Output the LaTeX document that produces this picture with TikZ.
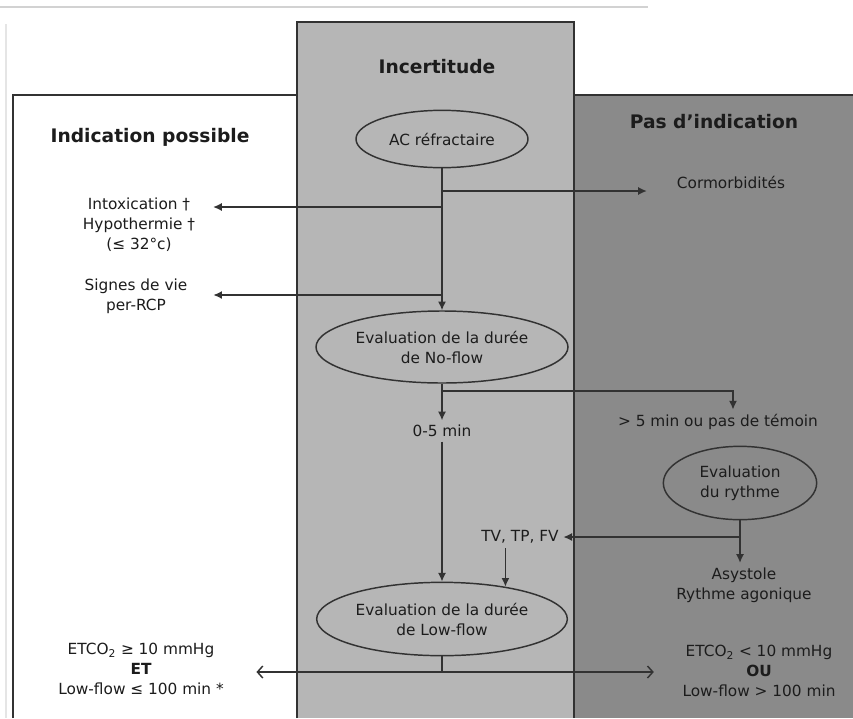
\documentclass[tikz,border=0pt]{standalone}
\usepackage{fontspec}
\setmainfont{DejaVu Sans}
\usetikzlibrary{shapes.geometric,arrows.meta}
\definecolor{midgray}{RGB}{182,182,182}
\definecolor{darkpanel}{RGB}{138,138,138}
\definecolor{edgegray}{RGB}{50,50,50}
\definecolor{txt}{RGB}{28,28,28}

\begin{document}
\begin{tikzpicture}[x=0.75pt,y=-0.75pt,
    every node/.style={font=\fontsize{11.5}{15}\selectfont, text=txt, align=center},
    titlenode/.style={font=\fontsize{14}{17}\selectfont\bfseries},
    evalnode/.style={ellipse, draw=edgegray, line width=1.1pt, inner sep=0pt},
    flow/.style={draw=edgegray, line width=1.1pt, -{Latex[length=6.5pt,width=6pt]}},
    link/.style={draw=edgegray, line width=1.1pt}]
  \useasboundingbox (0,0) rectangle (853,718);

  % panneaux
  \draw[gray!35, line width=0.8pt] (0,7) -- (648,7);
  \draw[gray!20, line width=0.8pt] (6,24) -- (6,718);
  \fill[white] (13,95) rectangle (297,718);
  \fill[darkpanel] (574,95) rectangle (853,718);
  \draw[edgegray, line width=1.5pt] (13,718) -- (13,95) -- (297,95);
  \draw[edgegray, line width=1.5pt] (574,95) -- (853,95);
  \filldraw[fill=midgray, draw=edgegray, line width=1.5pt] (297,718) -- (297,22) -- (574,22) -- (574,718);

  \node[titlenode] (possible) at (150,137) {Indication possible};
  \node[titlenode] (incert) at (437,67) {Incertitude};
  \node[titlenode] (pasind) at (714,122) {Pas d’indication};

  \node[evalnode, minimum width=129pt, minimum height=43pt] (ac) at (442,139) {AC réfractaire};
  \node (cormo) at (731,182) {Cormorbidités};
  \node (intox) at (139,225) {Intoxication †\\Hypothermie †\\(≤ 32°c)};
  \node (signes) at (136,296) {Signes de vie\\per-RCP};
  \node[evalnode, minimum width=189pt, minimum height=54pt] (noflow) at (442,347) {Evaluation de la durée\\de No-flow};
  \node (zero) at (442,431) {0-5 min};
  \node (five) at (718,422) {> 5 min ou pas de témoin};
  \node[evalnode, minimum width=115pt, minimum height=55pt] (rythme) at (740,483) {Evaluation\\du rythme};
  \node (tv) at (520,537) {TV, TP, FV};
  \node (asys) at (744,585) {Asystole\\Rythme agonique};
  \node[evalnode, minimum width=188pt, minimum height=55pt] (lowflow) at (442,619) {Evaluation de la durée\\de Low-flow};
  \node (okleft) at (141,669) {ETCO\textsubscript{2} ≥ 10 mmHg\\\textbf{ET}\\Low-flow ≤ 100 min *};
  \node (noright) at (759,671) {ETCO\textsubscript{2} < 10 mmHg\\\textbf{OU}\\Low-flow > 100 min};

  \coordinate (jc) at (442,191);
  \coordinate (ji) at (442,207);
  \coordinate (js) at (442,295);
  \coordinate (jn) at (442,391);
  \coordinate (jt) at (733,391);
  \coordinate (jr) at (740,537);
  \coordinate (jl) at (442,672);

  \draw[flow] (ac) -- (noflow);
  \draw[flow, shorten >=19pt] (jc) -- (jc -| cormo.west);
  \draw[flow, shorten >=10pt] (ji) -- (ji -| intox.east);
  \draw[flow, shorten >=16pt] (js) -- (js -| signes.east);
  \draw[flow] (noflow) -- (zero);
  \draw[flow] (jn) -- (jt) -- (jt |- five.north);
  \draw[link] (rythme) -- (jr);
  \draw[flow] (jr) -- (tv);
  \draw[flow] (jr) -- (asys.north -| jr);
  \draw[flow] (tv.south -| lowflow.27) -- (lowflow.27);
  \draw[flow] (zero) -- (lowflow);
  \draw[link] (lowflow) -- (jl);
  \draw[link, {Straight Barb[length=4pt,width=9pt]}-{Straight Barb[length=4pt,width=9pt]}, shorten <=21pt, shorten >=18pt] (jl -| okleft.east) -- (jl -| noright.west);
\end{tikzpicture}
\end{document}
